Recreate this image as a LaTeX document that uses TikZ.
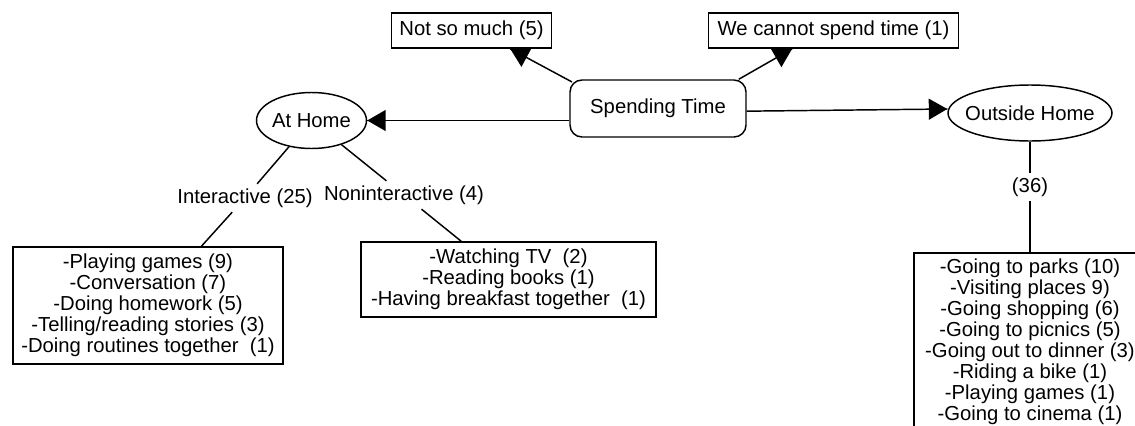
\documentclass[tikz,border=0pt]{standalone}
\usepackage{fontspec}
\setmainfont{Liberation Sans}
\usepackage{tikz}
\usetikzlibrary{arrows}
\usetikzlibrary{decorations.markings}
\usetikzlibrary{shapes.geometric}
\tikzset{->/.style = {decoration={markings,
                                  mark=at position 1 with {\arrow[scale=1.8]{triangle 60}}},
                      postaction={decorate}}}
\tikzset{box/.style = {draw, rectangle, inner sep = 0, align = center}}
\tikzset{oval/.style = {draw, ellipse, inner xsep = -8pt, inner ysep = 0}}
\tikzset{lbl/.style = {inner sep = 3pt}}

\begin{document}
\begin{tikzpicture}[x=0.75pt, y=-0.75pt, line width=1.1pt,
    every node/.style={font=\fontsize{15.2}{15.8}\selectfont}]
  \useasboundingbox (0,0) rectangle (1135,425);
  % top row
  \node [box, rounded corners=9pt, minimum width=132pt, minimum height=42.75pt] (st) at (658,108.5) {Spending Time};
  \node [box, minimum width=120pt, minimum height=26.25pt] (ns) at (471.5,30.5) {Not so much (5)};
  \node [box, minimum width=187.5pt, minimum height=26.25pt] (wc) at (833.5,30.5) {We cannot spend time (1)};
  \node [oval, minimum width=82.5pt, minimum height=42pt] (ah) at (311.5,120.5) {At Home};
  \node [oval, minimum width=123pt, minimum height=42pt] (oh) at (1030,113) {Outside Home};
  % at home
  \node [lbl] (ia) at (245,198) {Interactive (25)};
  \node [lbl] (ni) at (404,195) {Noninteractive (4)};
  \node [box, minimum width=202.5pt, minimum height=87.75pt] (lb) at (148,305.5)
    {-Playing games (9)\\-Conversation (7)\\-Doing homework (5)\\-Telling/reading stories (3)\\-Doing routines together\ \ (1)};
  \node [box, minimum width=221.25pt, minimum height=56.25pt] (mb) at (508.5,279.5)
    {-Watching TV\ \ (2)\\-Reading books (1)\\-Having breakfast together\ \ (1)};
  % outside home
  \node [lbl] (n36) at (1030,187) {(36)};
  \node [box, minimum width=174pt, minimum height=133.5pt] (rb) at (1030,342)
    {-Going to parks (10)\\-Visiting places 9)\\-Going shopping (6)\\-Going to picnics (5)\\-Going out to dinner (3)\\-Riding a bike (1)\\-Playing games (1)\\-Going to cinema (1)};
  \draw [->] (st.west |- ah.east) -- (ah.east);
  \draw [->] ([yshift=-2pt]st.east) -- ([yshift=3pt]oh.west);
  \draw [->] ([xshift=2pt, yshift=-2pt]st.north west) -- ([xshift=29pt]ns.south);
  \draw [->] ([xshift=-6pt]st.north east) -- ([xshift=-31pt]wc.south);
  \draw (ah) -- (ia) (ia) -- (lb);
  \draw (ah) -- (ni) (ni) -- (mb);
  \draw (oh) -- (n36) -- (rb);
\end{tikzpicture}
\end{document}
